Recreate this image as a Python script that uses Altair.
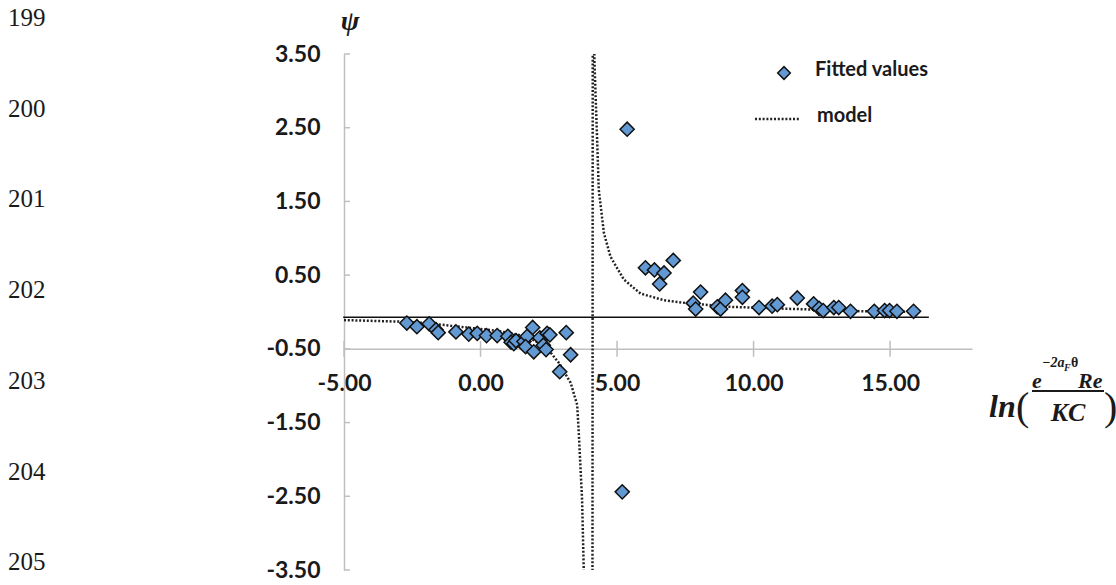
import altair as alt
import pandas as pd

# ---------------- data ----------------
FIT_X = [-2.70, -2.33, -1.88, -1.63, -1.55, -0.90, -0.43, -0.12, 0.22, 0.61,
         1.00, 1.12, 1.22, 1.30, 1.59, 1.71, 1.65, 1.91, 1.95, 2.17,
         2.30, 2.44, 2.54, 2.40, 3.14, 3.30, 2.90,
         5.37, 5.19,
         6.04, 6.37, 6.72, 6.56, 7.06, 7.79, 7.88, 8.06, 8.67, 8.79,
         8.97, 9.59, 9.59, 10.20, 10.68, 10.87, 11.60, 12.20, 12.40, 12.55,
         12.94, 13.12, 13.55, 14.42, 14.80, 14.98, 15.25, 15.86]
FIT_Y = [-0.15, -0.20, -0.16, -0.24, -0.28, -0.27, -0.30, -0.29, -0.32, -0.32,
         -0.33, -0.41, -0.43, -0.39, -0.40, -0.33, -0.47, -0.21, -0.54, -0.35,
         -0.45, -0.29, -0.31, -0.51, -0.28, -0.58, -0.81,
         2.48, -2.44,
         0.60, 0.57, 0.53, 0.38, 0.70, 0.12, 0.04, 0.27, 0.07, 0.04,
         0.16, 0.29, 0.20, 0.06, 0.08, 0.10, 0.19, 0.11, 0.05, 0.02,
         0.06, 0.06, 0.01, 0.01, 0.02, 0.02, 0.01, 0.01]

MODEL_X = [-5.0, -4.0, -3.0, -2.0, -1.0, 0.0, 0.5, 1.0, 1.5, 2.0, 2.5, 2.87,
           3.30, 3.54, 3.60, 3.66, 3.72, 3.78, 4.08, 4.13, 4.17, 4.27, 4.33,
           4.52, 4.76, 5.25, 5.86, 6.72, 7.57, 9.16, 10.68, 12.50, 13.98, 15.90]
MODEL_Y = [-0.11, -0.12, -0.13, -0.15, -0.19, -0.23, -0.25, -0.28, -0.32, -0.39,
           -0.52, -0.69, -0.96, -1.26, -1.65, -2.10, -2.55, -3.48, -20.0, 20.0,
           3.42, 2.34, 1.66, 1.07, 0.75, 0.44, 0.25, 0.16, 0.12, 0.07,
           0.05, 0.03, 0.01, 0.00]

HLINE_X = [-5.03, 16.42]
HLINE_Y = [-0.07, -0.07]

X_TICKS = [-5, 0, 5, 10, 15]
Y_TICKS = [-3.5, -2.5, -1.5, -0.5, 0.5, 1.5, 2.5, 3.5]
X_DOMAIN = [-5, 18]
Y_DOMAIN = [-3.5, 3.5]
X_AXIS_CROSS = -0.5

LEGEND_LABELS = ["Fitted values", "model"]
Y_TITLE = ["\u03c8"]
LINE_NUMBERS = ["199", "200", "201", "202", "203", "204", "205"]
XT_LN = ["ln"]
XT_OPEN = ["("]
XT_E = ["e"]
XT_SUP = ["\u22122a"]
XT_SUB = ["F"]
XT_THETA = ["\u03b8"]
XT_RE = ["Re"]
XT_DEN = ["KC"]
XT_CLOSE = [")"]

# ---------------- styling ----------------
W, H = 628, 516
PAD = {"left": 344, "top": 54, "right": 1116 - 344 - W, "bottom": 585 - 54 - H}
GRAY = "#BFBFBF"
BLUE = "#6399D3"
TXT = "#1a1a1a"
DOT = [2.0, 1.8]

xs = alt.Scale(domain=X_DOMAIN, nice=False, zero=False)
ys = alt.Scale(domain=Y_DOMAIN, nice=False, zero=False)

label_expr = "replace(format(datum.value, '.2f'), '\u2212', '-')"
x_offset = (Y_DOMAIN[1] - X_AXIS_CROSS) / (Y_DOMAIN[1] - Y_DOMAIN[0]) * H - H

x_axis = alt.Axis(values=X_TICKS, labelExpr=label_expr, title=None, grid=False,
                  ticks=False, tickSize=0, domainColor=GRAY, domainWidth=1.5,
                  labelFont="Lato", labelFontWeight="bold", labelFontSize=23,
                  labelColor=TXT, labelPadding=24, offset=x_offset,
                  labelFlush=False, labelOverlap=False)
y_axis = alt.Axis(values=Y_TICKS, labelExpr=label_expr, title=None, grid=False,
                  ticks=False, tickSize=0, domainColor=GRAY, domainWidth=1.5,
                  labelFont="Lato", labelFontWeight="bold", labelFontSize=23,
                  labelColor=TXT, labelPadding=24, labelFlush=False,
                  labelOverlap=False)


def X(field):
    return alt.X(field, scale=xs, axis=x_axis)


def Y(field):
    return alt.Y(field, scale=ys, axis=y_axis)


hline = alt.Chart(pd.DataFrame({"x": HLINE_X, "y": HLINE_Y})).mark_line(
    color="#111", strokeWidth=1.5).encode(x=X("x:Q"), y=Y("y:Q"))

xticks = alt.Chart(pd.DataFrame({"v": X_TICKS})).mark_rule(
    color=GRAY, strokeWidth=1.5, yOffset=-8, y2Offset=8).encode(
    x=X("v:Q"),
    y=alt.YDatum(X_AXIS_CROSS, scale=ys, axis=y_axis),
    y2=alt.Y2Datum(X_AXIS_CROSS))

yticks = alt.Chart(pd.DataFrame({"v": Y_TICKS})).mark_rule(
    color=GRAY, strokeWidth=1.5, x2Offset=6).encode(
    y=Y("v:Q"),
    x=alt.XDatum(X_DOMAIN[0], scale=xs, axis=x_axis),
    x2=alt.X2Datum(X_DOMAIN[0]))

model = alt.Chart(pd.DataFrame({"x": MODEL_X, "y": MODEL_Y})).mark_line(
    color="#222", strokeWidth=2.5, strokeDash=DOT, clip=True).encode(
    x=X("x:Q"), y=Y("y:Q"))

pts = alt.Chart(pd.DataFrame({"x": FIT_X, "y": FIT_Y})).mark_point(
    shape="diamond", size=200, fill=BLUE, fillOpacity=1, stroke="#111",
    strokeWidth=1.5, opacity=1).encode(x=X("x:Q"), y=Y("y:Q"))

# legend
leg_pt = alt.Chart(pd.DataFrame({"t": LEGEND_LABELS[:1]})).mark_point(
    shape="diamond", size=160, fill=BLUE, fillOpacity=1, stroke="#111",
    strokeWidth=1.5, opacity=1).encode(x=alt.value(440), y=alt.value(19))
leg_line = alt.Chart(pd.DataFrame({"t": LEGEND_LABELS[1:]})).mark_rule(
    color="#222", strokeWidth=2.5, strokeDash=DOT).encode(
    x=alt.value(411), x2=alt.value(456), y=alt.value(65))


def txt(data, x, y, size, font="Lato", weight="bold", style="normal",
        align="left", baseline="middle"):
    return alt.Chart(pd.DataFrame({"t": data})).mark_text(
        align=align, baseline=baseline, font=font, fontSize=size,
        fontWeight=weight, fontStyle=style, color=TXT).encode(
        x=alt.value(x), y=alt.value(y), text="t:N")


leg_t1 = txt(LEGEND_LABELS[:1], 471, 16, 20)
leg_t2 = txt(LEGEND_LABELS[1:], 473, 62, 20)

SER = "Liberation Serif"
psi = txt(Y_TITLE, 6, -32, 28, font=SER, style="italic", align="center")

AB = "alphabetic"
xt = [
    txt(XT_LN, 645, 363, 32, font=SER, style="italic", baseline=AB),
    txt(XT_OPEN, 672, 366, 40, font=SER, weight="normal", style="normal",
        baseline=AB),
    txt(XT_E, 688, 334, 22, font=SER, style="italic", baseline=AB),
    txt(XT_SUP, 698, 313, 14, font=SER, style="italic", baseline=AB),
    txt(XT_SUB, 720, 317, 10, font=SER, style="italic", baseline=AB),
    txt(XT_THETA, 727, 313, 14, font=SER, style="normal", baseline=AB),
    txt(XT_RE, 734, 334, 22, font=SER, style="italic", baseline=AB),
    txt(XT_DEN, 724, 367, 26, font=SER, style="italic", align="center",
        baseline=AB),
    txt(XT_CLOSE, 760, 366, 40, font=SER, weight="normal", style="normal",
        baseline=AB),
]
frac = alt.Chart(pd.DataFrame({"t": XT_DEN})).mark_rule(
    color=TXT, strokeWidth=2).encode(
    x=alt.value(688), x2=alt.value(760), y=alt.value(337))

linenos = []
for i, s in enumerate(LINE_NUMBERS):
    linenos.append(txt([s], -336, 18 + 90.7 * i - 54, 25, font=SER,
                       weight="normal"))

chart = alt.layer(
    hline, xticks, yticks, model, pts, leg_pt, leg_line, leg_t1, leg_t2,
    psi, *xt, frac, *linenos
).properties(
    width=W, height=H,
    autosize=alt.AutoSizeParams(type="none"),
    padding=PAD,
    background="white",
).configure_view(stroke=None)

chart.save("out.html", embed_options={"renderer": "svg", "actions": False})
